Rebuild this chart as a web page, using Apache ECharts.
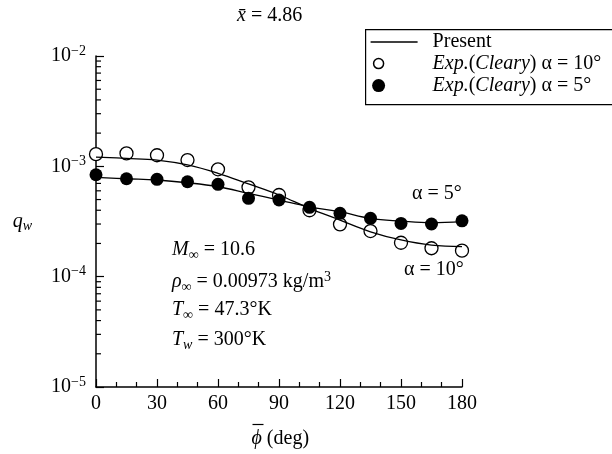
<!DOCTYPE html>
<html>
<head>
<meta charset="utf-8">
<script src="https://cdn.jsdelivr.net/npm/echarts@6/dist/echarts.min.js"></script>
<style>
  html, body { margin: 0; padding: 0; background: #fff; }
  #chart { width: 612px; height: 454px; }
</style>
</head>
<body>
<div id="chart"></div>
<script>
// phi positions (deg) shared by every series
const phi = [0, 15, 30, 45, 60, 75, 90, 105, 120, 135, 150, 165, 180]

// Present computation
const present10 = [1.21e-3, 1.18e-3, 1.14e-3, 1.03e-3, 8.65e-4, 6.92e-4, 5.5e-4, 4.16e-4, 3.26e-4, 2.55e-4, 2.15e-4, 1.93e-4, 1.87e-4]
const present5 = [7.94e-4, 7.72e-4, 7.52e-4, 7.1e-4, 6.53e-4, 5.69e-4, 4.95e-4, 4.3e-4, 3.88e-4, 3.38e-4, 3.19e-4, 3.08e-4, 3.15e-4]

// Cleary experiment
const exp10 = [1.29e-3, 1.31e-3, 1.26e-3, 1.14e-3, 9.4e-4, 6.45e-4, 5.5e-4, 4.0e-4, 2.98e-4, 2.59e-4, 2.03e-4, 1.81e-4, 1.72e-4]
const exp5 = [8.39e-4, 7.72e-4, 7.62e-4, 7.25e-4, 6.87e-4, 5.13e-4, 4.95e-4, 4.25e-4, 3.75e-4, 3.38e-4, 3.04e-4, 3.0e-4, 3.21e-4]

// axis ticks
const xTicks = [0, 30, 60, 90, 120, 150, 180]
const yDecades = [1e-5, 1e-4, 1e-3, 1e-2]
const yMinorTicks = [1e-5, 1e-4, 1e-3].flatMap((d) => [2, 3, 4, 5, 6, 7, 8, 9].map((m) => m * d))

const SERIF = '"Liberation Serif", "DejaVu Serif", serif'
const FS = 20

const chart = echarts.init(document.getElementById('chart'))

function pairs(ys) {
  return phi.map((x, i) => [x, ys[i]])
}

const richMath = {
  i: { fontFamily: SERIF, fontSize: FS, fontStyle: 'italic', color: '#000' },
  n: { fontFamily: SERIF, fontSize: FS, color: '#000' },
  sub: { fontFamily: SERIF, fontSize: 14, color: '#000', padding: [10, 0, 0, 0] },
  subi: { fontFamily: SERIF, fontSize: 14, fontStyle: 'italic', color: '#000', padding: [10, 0, 0, 0] },
  sup: { fontFamily: SERIF, fontSize: 14, color: '#000', padding: [0, 0, 10, 0] }
}

function mathText(left, top, text) {
  return {
    type: 'text',
    left: left,
    top: top,
    style: { text: text, rich: richMath, fontFamily: SERIF, fontSize: FS, fill: '#000' }
  }
}

chart.setOption({
  backgroundColor: '#fff',
  animation: false,
  grid: { left: 96, right: 150, top: 56, bottom: 67 },
  xAxis: {
    type: 'value',
    min: 0,
    max: 180,
    interval: 30,
    axisLine: { lineStyle: { color: '#000', width: 1.5 } },
    axisTick: { inside: true, length: 8, lineStyle: { color: '#000', width: 1.2 } },
    minorTick: { show: true, splitNumber: 3, length: 5, lineStyle: { color: '#000', width: 1.2 } },
    splitLine: { show: false },
    axisLabel: {
      margin: 7,
      fontFamily: SERIF,
      fontSize: FS,
      color: '#000',
      customValues: xTicks
    }
  },
  yAxis: {
    type: 'log',
    logBase: 10,
    min: yDecades[0],
    max: yDecades[yDecades.length - 1],
    name: '{i|q}{subi|w}',
    nameLocation: 'middle',
    nameRotate: 0,
    nameGap: 64,
    nameTextStyle: { rich: richMath, fontFamily: SERIF, fontSize: FS, color: '#000' },
    axisLine: { show: true, lineStyle: { color: '#000', width: 1.5 } },
    axisTick: { show: true, inside: true, length: 8, lineStyle: { color: '#000', width: 1.2 } },
    splitLine: { show: false },
    axisLabel: {
      margin: 10,
      color: '#000',
      formatter: (v) => '{n|10}{sup|−' + Math.round(-Math.log10(v)) + '}',
      rich: richMath
    }
  },
  graphic: [
    mathText(237, 6, '{i|x\u0304} = 4.86'),
    // x axis title: phi with overbar
    {
      type: 'group',
      left: 250,
      top: 422,
      children: [
        { type: 'line', shape: { x1: 1, y1: 2, x2: 12, y2: 2 }, style: { stroke: '#000', lineWidth: 1.2 } },
        { type: 'text', x: 0, y: 6, style: { text: '{i|ϕ} (deg)', rich: richMath, fontFamily: SERIF, fontSize: FS, fill: '#000' } }
      ]
    },
    mathText(172, 240, '{i|M}{sub|∞} = 10.6'),
    mathText(172, 270, '{i|ρ}{sub|∞} = 0.00973 kg/m{sup|3}'),
    mathText(172, 300, '{i|T}{sub|∞} = 47.3°K'),
    mathText(172, 330, '{i|T}{subi|w} = 300°K'),
    mathText(412, 184, '{n|α} = 5°'),
    mathText(404, 260, '{n|α} = 10°'),
    // legend box
    {
      type: 'group',
      left: 365,
      top: 29,
      children: [
        { type: 'rect', shape: { x: 0, y: 0, width: 300, height: 75 }, style: { fill: '#fff', stroke: '#000', lineWidth: 1.2 } },
        { type: 'line', shape: { x1: 5, y1: 12.5, x2: 52, y2: 12.5 }, style: { stroke: '#000', lineWidth: 1.5 } },
        { type: 'circle', shape: { cx: 13, cy: 34, r: 5 }, style: { fill: '#fff', stroke: '#000', lineWidth: 1.5 } },
        { type: 'circle', shape: { cx: 13, cy: 56, r: 6.5 }, style: { fill: '#000' } },
        { type: 'text', x: 67, y: 12.5, style: { text: 'Present', fontFamily: SERIF, fontSize: FS, fill: '#000', verticalAlign: 'middle' } },
        { type: 'text', x: 67, y: 34, style: { text: '{i|Exp.}({i|Cleary}) α = 10°', rich: richMath, fontFamily: SERIF, fontSize: FS, fill: '#000', verticalAlign: 'middle' } },
        { type: 'text', x: 67, y: 56, style: { text: '{i|Exp.}({i|Cleary}) α = 5°', rich: richMath, fontFamily: SERIF, fontSize: FS, fill: '#000', verticalAlign: 'middle' } }
      ]
    }
  ],
  series: [
    {
      name: 'y minor ticks',
      type: 'custom',
      silent: true,
      clip: false,
      data: yMinorTicks.map((v) => [0, v]),
      renderItem: (params, api) => {
        const p = api.coord([api.value(0), api.value(1)])
        return {
          type: 'line',
          shape: { x1: p[0], y1: p[1], x2: p[0] + 5, y2: p[1] },
          style: { stroke: '#000', lineWidth: 1.2 }
        }
      }
    },
    {
      name: 'Present α=10',
      type: 'line',
      smooth: 0.4,
      showSymbol: false,
      lineStyle: { color: '#000', width: 1.3 },
      data: pairs(present10)
    },
    {
      name: 'Present α=5',
      type: 'line',
      smooth: 0.4,
      showSymbol: false,
      lineStyle: { color: '#000', width: 1.3 },
      data: pairs(present5)
    },
    {
      name: 'Exp. α=10',
      type: 'scatter',
      clip: false,
      symbolSize: 13,
      itemStyle: { color: '#fff', borderColor: '#000', borderWidth: 1.3, opacity: 1 },
      data: pairs(exp10)
    },
    {
      name: 'Exp. α=5',
      type: 'scatter',
      clip: false,
      symbolSize: 13,
      itemStyle: { color: '#000', opacity: 1 },
      data: pairs(exp5)
    }
  ]
})
</script>
</body>
</html>
